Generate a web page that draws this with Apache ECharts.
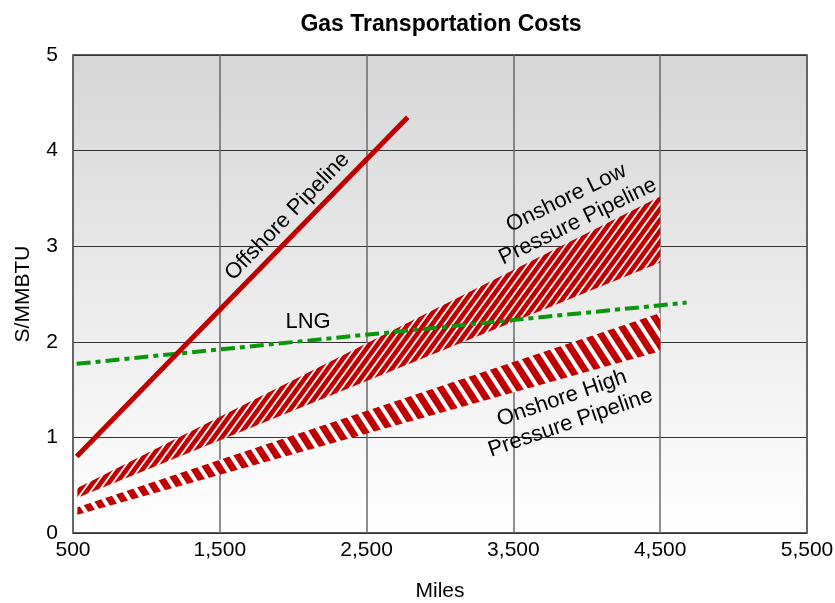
<!DOCTYPE html>
<html>
<head>
<meta charset="utf-8">
<script src="https://cdn.jsdelivr.net/npm/echarts@6/dist/echarts.min.js"></script>
<style>
html,body{margin:0;padding:0;background:#fff;}
#chart{width:835px;height:603px;}
</style>
</head>
<body>
<div id="chart"></div>
<script>
// ---- data ----
const xTickLabels = [500, 1500, 2500, 3500, 4500, 5500];
const yTickLabels = [0, 1, 2, 3, 4, 5];

const offshoreMiles = [525, 2780];
const offshoreCost = [0.80, 4.35];

const lngMiles = [525, 4680];
const lngCost = [1.77, 2.41];

const bandMiles = [530, 4500];
const lowUpper = [0.47, 3.52];
const lowLower = [0.37, 2.83];
const highUpper = [0.27, 2.30];
const highLower = [0.19, 1.90];

const labelTexts = ['Offshore Pipeline', 'LNG', 'Onshore Low\nPressure Pipeline', 'Onshore High\nPressure Pipeline'];
const labelMiles = [1960, 2101, 3900, 3860];
const labelCost = [3.31, 2.21, 3.38, 1.28];
const labelAngles = [46, 0, 26, 19];

// ---- styles ----
const RED = '#c00000';
const FONT = '"Liberation Sans", Arial, sans-serif';

function makeHatch(w, h, lineW, dir) {
  const c = document.createElement('canvas');
  c.width = w; c.height = h;
  const ctx = c.getContext('2d');
  ctx.fillStyle = RED;
  ctx.fillRect(0, 0, w, h);
  ctx.strokeStyle = '#ffffff';
  ctx.lineWidth = lineW;
  for (let k = -2; k <= 2; k++) {
    ctx.beginPath();
    if (dir === '/') {
      ctx.moveTo(k * w - w, 2 * h);
      ctx.lineTo(k * w + 2 * w, -h);
    } else {
      ctx.moveTo(k * w - w, -h);
      ctx.lineTo(k * w + 2 * w, 2 * h);
    }
    ctx.stroke();
  }
  return c;
}
const lowPattern = makeHatch(8, 11, 1.8, '/');
const highPattern = makeHatch(13, 20, 4, '\\');

function bandSeries(upper, lower, pattern) {
  return {
    type: 'custom',
    silent: true,
    clip: false,
    z: 2,
    data: [[bandMiles[0], lower[0]]],
    renderItem: function (params, api) {
      const pts = [];
      for (let i = 0; i < bandMiles.length; i++) pts.push(api.coord([bandMiles[i], upper[i]]));
      for (let i = bandMiles.length - 1; i >= 0; i--) pts.push(api.coord([bandMiles[i], lower[i]]));
      return {
        type: 'polygon',
        shape: { points: pts },
        style: { fill: { image: pattern, repeat: 'repeat' }, stroke: null }
      };
    }
  };
}

const chart = echarts.init(document.getElementById('chart'), null, { renderer: 'canvas' });

const option = {
  animation: false,
  backgroundColor: '#ffffff',
  title: {
    text: 'Gas Transportation Costs',
    left: 436,
    textAlign: 'center',
    top: 8,
    textStyle: { fontFamily: FONT, fontSize: 23, fontWeight: 'bold', color: '#000' }
  },
  grid: {
    left: 73, right: 28, top: 55, bottom: 70,
    outerBoundsMode: 'none',
    containLabel: false,
    show: true,
    borderColor: '#222',
    borderWidth: 1.5,
    backgroundColor: {
      type: 'linear', x: 0, y: 0, x2: 0, y2: 1,
      colorStops: [{ offset: 0, color: '#d6d6d6' }, { offset: 1, color: '#ffffff' }]
    }
  },
  xAxis: {
    type: 'value',
    min: 500, max: 5500, interval: 500,
    name: 'Miles',
    nameLocation: 'middle',
    nameGap: 48,
    nameTextStyle: { fontFamily: FONT, fontSize: 21, color: '#000' },
    axisLine: { show: false },
    axisTick: { show: false, customValues: xTickLabels },
    axisLabel: {
      customValues: xTickLabels,
      margin: 7,
      fontFamily: FONT, fontSize: 21, color: '#000',
      formatter: v => Number(v).toLocaleString('en-US')
    },
    splitLine: { show: true, lineStyle: { color: '#6a6a6a', width: 1.5 } }
  },
  yAxis: {
    type: 'value',
    min: 0, max: 5, interval: 1,
    name: 'S/MMBTU',
    nameLocation: 'middle',
    nameGap: 39,
    nameTextStyle: { fontFamily: FONT, fontSize: 21, color: '#000' },
    axisLine: { show: false },
    axisTick: { show: false },
    axisLabel: {
      margin: 15,
      fontFamily: FONT, fontSize: 21, color: '#000',
      formatter: v => String(v)
    },
    splitLine: { show: true, lineStyle: { color: '#333', width: 1.2 } }
  },
  series: [
    bandSeries(lowUpper, lowLower, lowPattern),
    bandSeries(highUpper, highLower, highPattern),
    {
      type: 'line',
      name: 'LNG',
      z: 3,
      symbol: 'none',
      silent: true,
      data: lngMiles.map((m, i) => [m, lngCost[i]]),
      lineStyle: { color: '#0a960a', width: 4, type: [14, 5, 5, 5], cap: 'butt' }
    },
    {
      type: 'line',
      name: 'Offshore Pipeline',
      z: 4,
      symbol: 'none',
      silent: true,
      data: offshoreMiles.map((m, i) => [m, offshoreCost[i]]),
      lineStyle: { color: RED, width: 5, cap: 'butt' }
    },
    {
      type: 'custom',
      silent: true,
      clip: false,
      z: 5,
      data: labelMiles.map((m, i) => [m, labelCost[i]]),
      renderItem: function (params, api) {
        const p = api.coord([api.value(0), api.value(1)]);
        const i = params.dataIndex;
        return {
          type: 'text',
          x: p[0], y: p[1],
          rotation: labelAngles[i] * Math.PI / 180,
          style: {
            text: labelTexts[i],
            fontFamily: FONT, fontSize: 22,
            lineHeight: 26,
            fill: '#000',
            align: 'center',
            verticalAlign: 'middle'
          }
        };
      }
    }
  ]
};
chart.setOption(option);
</script>
</body>
</html>
